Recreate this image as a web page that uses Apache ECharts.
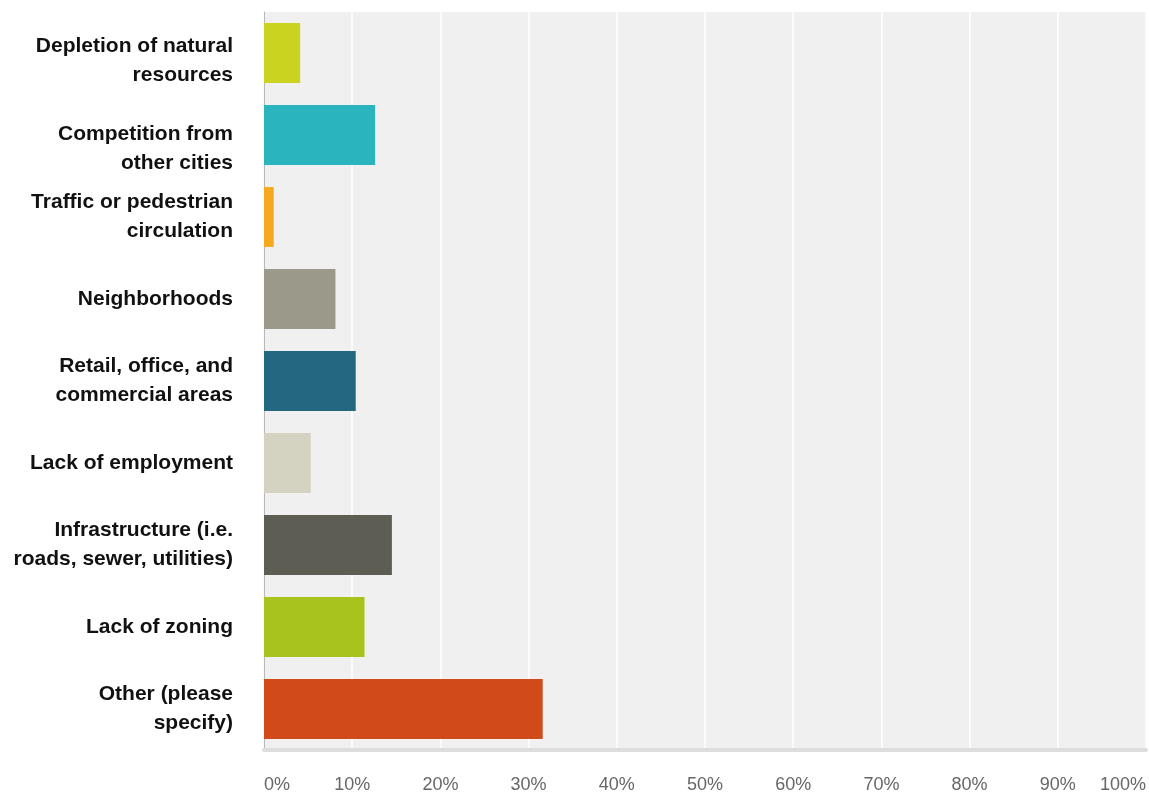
<!DOCTYPE html>
<html>
<head>
<meta charset="utf-8">
<script src="https://cdn.jsdelivr.net/npm/echarts@6/dist/echarts.min.js"></script>
<style>
  html, body { margin: 0; padding: 0; background: #ffffff; }
  #chart { width: 1149px; height: 797px; }
</style>
</head>
<body>
<div id="chart"></div>
<script>
// Survey answers, top to bottom
const categories = [
  'Depletion of natural\nresources',
  'Competition from\nother cities',
  'Traffic or pedestrian\ncirculation',
  'Neighborhoods',
  'Retail, office, and\ncommercial areas',
  'Lack of employment',
  'Infrastructure (i.e.\nroads, sewer, utilities)',
  'Lack of zoning',
  'Other (please\nspecify)'
];
// Share of responses, percent
const values = [4.1, 12.6, 1.1, 8.1, 10.4, 5.3, 14.5, 11.4, 31.6];
// One colour per answer
const barColors = [
  '#cbd321', '#2ab4be', '#f6a81e', '#9a998a', '#236780',
  '#d4d3c1', '#5e5d53', '#a8c31e', '#d04a1a'
];
const xTicks = [0, 10, 20, 30, 40, 50, 60, 70, 80, 90, 100];

// The first two labels sit a little below their bars: an invisible
// spacer line on top pushes the centred text block down.
const labelGap = { 0: 'gapS', 1: 'gapL' };

const chart = echarts.init(document.getElementById('chart'));
chart.setOption({
  backgroundColor: '#ffffff',
  animation: false,
  grid: {
    left: 264, right: 0, top: 12, bottom: 47,
    show: true, backgroundColor: '#f0f0f0', borderWidth: 0
  },
  xAxis: {
    type: 'value',
    min: xTicks[0],
    max: xTicks[xTicks.length - 1],
    interval: 10,
    axisLine: { show: true, lineStyle: { color: '#dddddd', width: 4 } },
    axisTick: { show: false },
    splitLine: { show: true, lineStyle: { color: '#fbfbfb', width: 2 } },
    axisLabel: {
      margin: 26,
      color: '#666666',
      fontFamily: 'Liberation Sans, Arial, sans-serif',
      fontSize: 18,
      alignMinLabel: 'left',
      alignMaxLabel: 'right',
      formatter: v => v + '%'
    }
  },
  yAxis: {
    type: 'category',
    inverse: true,
    data: categories,
    axisLine: { show: true, lineStyle: { color: '#b8b8b8', width: 1 } },
    axisTick: { show: false },
    splitLine: { show: false },
    axisLabel: {
      margin: 31,
      color: '#111111',
      fontFamily: 'Liberation Sans, Arial, sans-serif',
      fontWeight: 'bold',
      fontSize: 21,
      lineHeight: 29,
      align: 'right',
      formatter: (value, index) =>
        labelGap[index] ? '{' + labelGap[index] + '| }\n' + value : value,
      rich: {
        gapS: { fontSize: 1, lineHeight: 15 },
        gapL: { fontSize: 1, lineHeight: 28 }
      }
    }
  },
  series: [{
    type: 'bar',
    barCategoryGap: '27%',
    data: values.map((v, i) => ({ value: v, itemStyle: { color: barColors[i] } }))
  }]
});
</script>
</body>
</html>
